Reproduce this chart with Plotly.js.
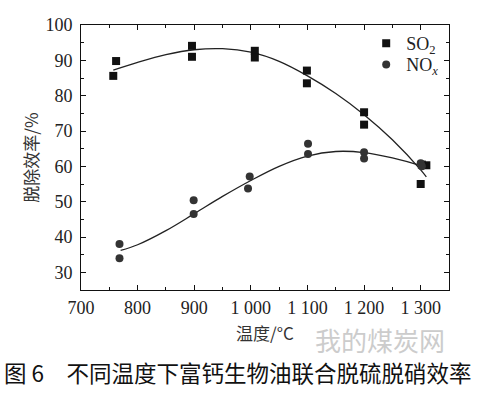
<!DOCTYPE html>
<html><head><meta charset="utf-8">
<script src="https://cdn.plot.ly/plotly-3.0.1.min.js"></script>
<style>html,body{margin:0;padding:0;background:#fff;}#chart{width:479px;height:394px;}</style>
</head><body><div id="chart"></div>
<script>
// SO2 measured points
const so2X = [757, 762, 896, 896, 1007, 1007, 1099, 1099, 1200, 1200, 1300, 1302, 1310];
const so2Y = [85.6, 89.8, 94.1, 91.0, 92.7, 90.8, 87.1, 83.5, 75.3, 71.8, 55.0, 60.5, 60.3];
// NOx measured points
const noxX = [768, 768, 899, 899, 995, 998, 1101, 1101, 1200, 1200, 1300, 1302];
const noxY = [38.0, 34.0, 50.4, 46.5, 53.7, 57.1, 66.4, 63.5, 64.0, 62.2, 60.9, 60.0];
// fitted curves
const so2FitX = [757, 800, 850, 900, 950, 1000, 1050, 1100, 1150, 1200, 1250, 1300, 1310];
const so2FitY = [87.2, 89.4, 91.6, 93.0, 93.3, 92.3, 89.7, 85.6, 80.6, 74.6, 67.5, 59.0, 57.0];
const noxFitX = [770, 800, 850, 900, 950, 1000, 1050, 1100, 1150, 1200, 1250, 1300, 1310];
const noxFitY = [36.2, 37.8, 41.8, 46.6, 51.5, 56.0, 60.0, 62.9, 64.2, 63.9, 62.4, 60.2, 59.6];
// axis ticks
const xTickVals = [700, 800, 900, 1000, 1100, 1200, 1300];
const xTickText = ['700', '800', '900', '1 000', '1 100', '1 200', '1 300'];
const yTickVals = [30, 40, 50, 60, 70, 80, 90, 100];
const yTickText = ['30', '40', '50', '60', '70', '80', '90', '100'];

const serif = 'Liberation Serif';
const cjk = 'Noto Sans CJK SC';

const traces = [
  {x: so2FitX, y: so2FitY, mode: 'lines', line: {color: '#222', width: 1.3, shape: 'spline'}, showlegend: false, hoverinfo: 'skip'},
  {x: noxFitX, y: noxFitY, mode: 'lines', line: {color: '#222', width: 1.3, shape: 'spline'}, showlegend: false, hoverinfo: 'skip'},
  {x: so2X, y: so2Y, mode: 'markers', name: 'SO<sub>2</sub>', legend: 'legend', marker: {symbol: 'square', size: 8, color: '#111'}},
  {x: noxX, y: noxY, mode: 'markers', name: 'NO<sub><i>x</i></sub>', legend: 'legend2', marker: {symbol: 'circle', size: 8, color: '#333'}}
];

const minorX = {ticks: 'inside', ticklen: 3, tickwidth: 1, tickcolor: '#111', dtick: 50, tick0: 750};
const minorY = {ticks: 'inside', ticklen: 3, tickwidth: 1, tickcolor: '#111', dtick: 5, tick0: 0};

const legendStyle = {xanchor: 'left', yanchor: 'middle', bgcolor: 'rgba(0,0,0,0)',
  font: {family: serif, size: 18, color: '#222'}, itemwidth: 30};

const layout = {
  width: 479, height: 394,
  font: {family: serif, size: 18, color: '#222'},
  margin: {l: 81, r: 30, t: 25, b: 104},
  paper_bgcolor: '#fff', plot_bgcolor: '#fff',
  xaxis: {
    range: [700, 1350], tickmode: 'array', tickvals: xTickVals, ticktext: xTickText,
    showgrid: false, zeroline: false, showline: true, linecolor: '#111', linewidth: 1,
    mirror: 'ticks', ticks: 'inside', ticklen: 5, tickwidth: 1, tickcolor: '#111',
    tickfont: {family: serif, size: 18, color: '#222'},
    minor: minorX, ticklabelstandoff: 1,
    title: {text: '温度/°C', font: {family: cjk, size: 17, color: '#333'}, standoff: 11}
  },
  yaxis: {
    range: [25, 100], tickmode: 'array', tickvals: yTickVals, ticktext: yTickText,
    showgrid: false, zeroline: false, showline: true, linecolor: '#111', linewidth: 1,
    mirror: 'ticks', ticks: 'inside', ticklen: 5, tickwidth: 1, tickcolor: '#111',
    tickfont: {family: serif, size: 18, color: '#222'},
    minor: minorY, ticklabelstandoff: 4,
    title: {text: '脱除效率/%', font: {family: cjk, size: 17, color: '#333'}, standoff: 2}
  },
  legend: Object.assign({x: 0.775, y: 0.93}, legendStyle),
  legend2: Object.assign({x: 0.775, y: 0.85}, legendStyle),
  annotations: [
    {xref: 'paper', yref: 'paper', x: 0.63, y: -0.185, xanchor: 'left', yanchor: 'middle', showarrow: false,
     text: '我的煤炭网', font: {family: cjk, size: 26, color: '#cccccc'}},
    {xref: 'paper', yref: 'paper', x: -0.215, y: -0.31, xanchor: 'left', yanchor: 'middle', showarrow: false,
     text: '图 6　不同温度下富钙生物油联合脱硫脱硝效率', font: {family: cjk, size: 22.5, color: '#111'}}
  ]
};

Plotly.newPlot('chart', traces, layout, {displayModeBar: false, staticPlot: true});
</script></body></html>
